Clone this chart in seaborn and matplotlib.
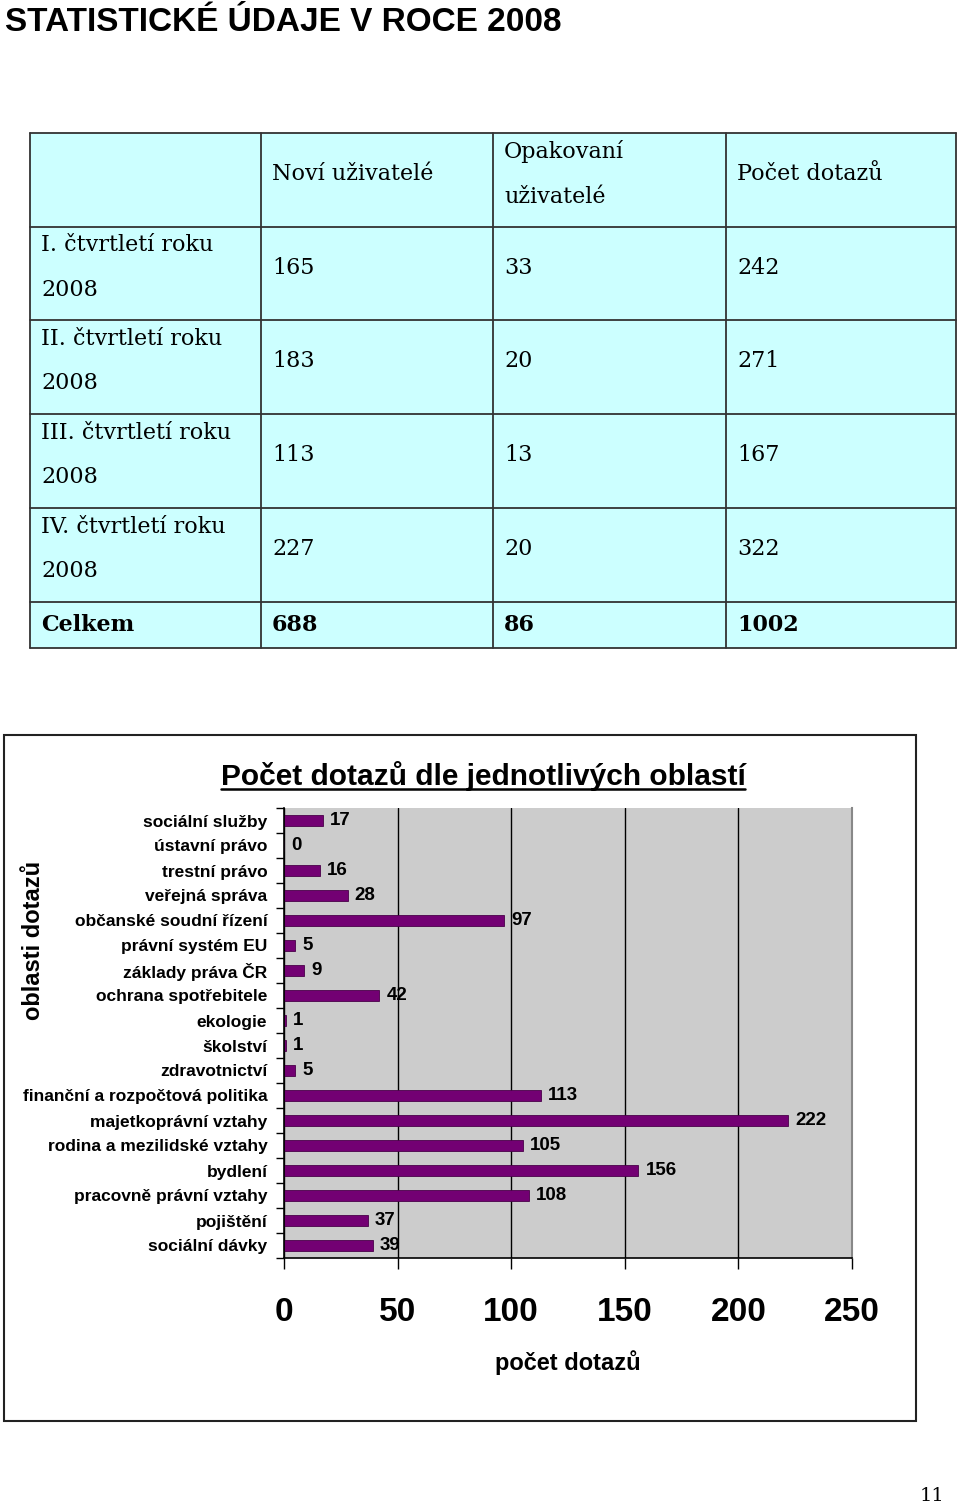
import matplotlib
matplotlib.use("Agg")
import matplotlib.pyplot as plt
from matplotlib.patches import Rectangle
from matplotlib.lines import Line2D
from matplotlib.ticker import FixedLocator
import seaborn as sns
import pandas as pd

# ---------------- data ----------------
page_title = "STATISTICKÉ ÚDAJE V ROCE 2008"
table_header = ["", "Noví uživatelé", "Opakovaní\nuživatelé", "Počet dotazů"]
row_labels = ["I. čtvrtletí roku\n2008", "II. čtvrtletí roku\n2008",
              "III. čtvrtletí roku\n2008", "IV. čtvrtletí roku\n2008"]
new_users = [165, 183, 113, 227]
repeat_users = [33, 20, 13, 20]
queries = [242, 271, 167, 322]
total_label = "Celkem"
totals = [688, 86, 1002]

chart_title = "Počet dotazů dle jednotlivých oblastí"
areas = ["sociální služby", "ústavní právo", "trestní právo", "veřejná správa",
         "občanské soudní řízení", "právní systém EU", "základy práva ČR",
         "ochrana spotřebitele", "ekologie", "školství", "zdravotnictví",
         "finanční a rozpočtová politika", "majetkoprávní vztahy",
         "rodina a mezilidské vztahy", "bydlení", "pracovně právní vztahy",
         "pojištění", "sociální dávky"]
counts = [17, 0, 16, 28, 97, 5, 9, 42, 1, 1, 5, 113, 222, 105, 156, 108, 37, 39]
x_ticks = [0, 50, 100, 150, 200, 250]
x_label = "počet dotazů"
y_label = "oblasti dotazů"
page_number = "11"

# ---------------- style ----------------
sns.set_style("white")
plt.rcParams["font.family"] = ["Liberation Sans", "DejaVu Sans"]
plt.rcParams["text.color"] = "black"
plt.rcParams["axes.labelcolor"] = "black"
plt.rcParams["xtick.color"] = "black"
plt.rcParams["ytick.color"] = "black"

W, H = 960, 1506
fig = plt.figure(figsize=(W / 100, H / 100), dpi=100)
fig.patch.set_facecolor("white")

# overlay axes in pixel coordinates for the table & decorations
ov = fig.add_axes([0, 0, 1, 1], zorder=0)
ov.set_xlim(0, W)
ov.set_ylim(H, 0)
ov.axis("off")

ov.text(5, 22, page_title, fontsize=24, fontweight="bold", ha="left", va="center",
        color="black", family=["Liberation Sans", "DejaVu Sans"])

# table
col_x = [30, 261, 493, 726, 956]
row_y = [133, 227, 320, 414, 508, 602, 648]
ov.add_patch(Rectangle((col_x[0], row_y[0]), col_x[-1] - col_x[0], row_y[-1] - row_y[0],
                       facecolor="#ccffff", edgecolor="none", zorder=1))
for x in col_x:
    ov.add_line(Line2D([x, x], [row_y[0], row_y[-1]], color="#333333", lw=1.3, zorder=2))
for y in row_y:
    ov.add_line(Line2D([col_x[0], col_x[-1]], [y, y], color="#333333", lw=1.3, zorder=2))

serif = ["DejaVu Serif"]
tfs = 16
pad = 11
ls = 2.35
for j, h in enumerate(table_header):
    if h:
        cy = (row_y[0] + row_y[1]) / 2 - 6
        ov.text(col_x[j] + pad, cy, h, fontsize=tfs, family=serif, ha="left", va="center",
                linespacing=ls, color="black", zorder=3)
for i, lab in enumerate(row_labels):
    cy = (row_y[i + 1] + row_y[i + 2]) / 2 - 6
    ov.text(col_x[0] + pad, cy, lab, fontsize=tfs, family=serif, ha="left", va="center",
            linespacing=ls, color="black", zorder=3)
    for j, v in enumerate([new_users[i], repeat_users[i], queries[i]]):
        ov.text(col_x[j + 1] + pad, cy, str(v), fontsize=tfs, family=serif, ha="left",
                va="center", color="black", zorder=3)
cy = (row_y[5] + row_y[6]) / 2
ov.text(col_x[0] + pad, cy, total_label, fontsize=tfs, family=serif, fontweight="bold",
        ha="left", va="center", color="black", zorder=3)
for j, v in enumerate(totals):
    ov.text(col_x[j + 1] + pad, cy, str(v), fontsize=tfs, family=serif, fontweight="bold",
            ha="left", va="center", color="black", zorder=3)

# chart frame
ov.add_patch(Rectangle((4, 735), 912, 686, facecolor="none", edgecolor="#222222", lw=1.5, zorder=1))

# chart title with underline
t = ov.text(483, 776, chart_title, fontsize=21.5, fontweight="bold", ha="center",
            va="center", color="black")

# y label
ov.text(34, 940, y_label, fontsize=17, fontweight="bold", rotation=90, ha="center",
        va="center", color="black")

# page number
ov.text(932, 1496, page_number, fontsize=14, family=serif, ha="center", va="center",
        color="black")

# ---------------- bar chart ----------------
x0, x1, y0, y1 = 284, 852, 808, 1258
ax = fig.add_axes([x0 / W, 1 - y1 / H, (x1 - x0) / W, (y1 - y0) / H], zorder=2)
df = pd.DataFrame({"area": areas, "count": counts})
sns.barplot(data=df, x="count", y="area", orient="h", color="#730073", width=0.44,
            saturation=1, ax=ax, edgecolor="#4a004a", linewidth=0.6)
ax.set_facecolor("#cccccc")
ax.set_xlim(0, 250)
ax.set_ylim(len(areas) - 0.5, -0.5)
ax.xaxis.set_major_locator(FixedLocator(x_ticks))
ax.set_xticklabels([str(v) for v in x_ticks])
ax.grid(axis="x", color="black", lw=1.0)
ax.grid(axis="y", visible=False)
ax.set_axisbelow(True)
ax.tick_params(axis="x", direction="out", length=8, width=1, pad=20, labelsize=24,
               colors="black", bottom=True)
for lbl in ax.get_xticklabels():
    lbl.set_fontweight("bold")
ax.yaxis.set_minor_locator(FixedLocator([i - 0.5 for i in range(len(areas) + 1)]))
ax.tick_params(axis="y", which="major", length=0, pad=12, labelsize=12.5, colors="black")
ax.tick_params(axis="y", which="minor", direction="out", length=6, width=1, left=True,
               colors="black")
for lbl in ax.get_yticklabels():
    lbl.set_fontweight("bold")
ax.set_ylabel("")
ax.set_xlabel(x_label, fontsize=17, fontweight="bold", labelpad=16, color="black")
for s in ["left", "bottom"]:
    ax.spines[s].set_color("black")
    ax.spines[s].set_linewidth(1.2)
ax.spines["top"].set_visible(False)
ax.spines["right"].set_color("#888888")
ax.spines["right"].set_linewidth(1.5)

for i, v in enumerate(counts):
    ax.annotate(str(v), xy=(v, i), xytext=(5, 0), textcoords="offset points",
                ha="left", va="center", fontsize=13.5, fontweight="bold", color="black",
                annotation_clip=False)

# underline the chart title
fig.canvas.draw()
r = fig.canvas.get_renderer()
bb = t.get_window_extent(renderer=r)
inv = ov.transData.inverted()
(bx0, by0), (bx1, by1) = inv.transform([[bb.x0, bb.y0], [bb.x1, bb.y1]])
uy = max(by0, by1) - 2
ov.add_line(Line2D([bx0, bx1], [uy, uy], color="black", lw=1.8))

fig.savefig("out.png", dpi=100)
